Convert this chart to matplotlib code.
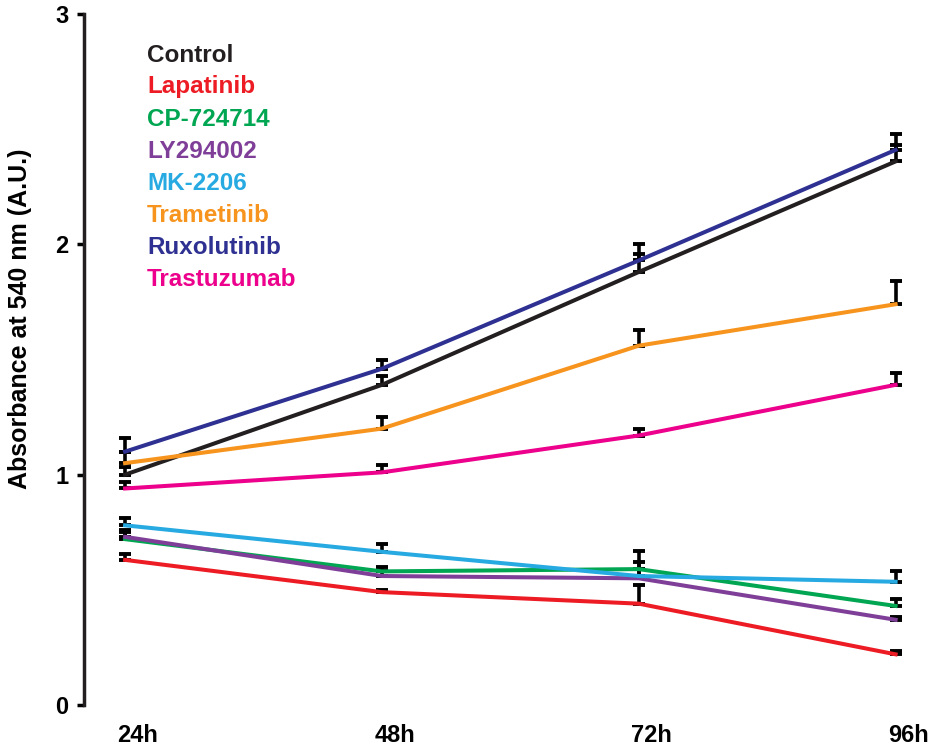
import numpy as np
import matplotlib.pyplot as plt

plt.rcParams['font.family'] = ['Liberation Sans', 'DejaVu Sans']
plt.rcParams['font.weight'] = 'bold'

times = ['24h', '48h', '72h', '96h']
names = ['Control', 'Lapatinib', 'CP-724714', 'LY294002', 'MK-2206',
         'Trametinib', 'Ruxolutinib', 'Trastuzumab']
colors = ['#231f20', '#ed1c24', '#00a651', '#7f3f98', '#27aae1',
          '#f7941d', '#2e3192', '#ec008c']

control = [1.00, 1.39, 1.88, 2.36]
lapatinib = [0.63, 0.49, 0.44, 0.22]
cp724714 = [0.72, 0.58, 0.59, 0.43]
ly294002 = [0.73, 0.56, 0.55, 0.37]
mk2206 = [0.78, 0.665, 0.56, 0.535]
trametinib = [1.05, 1.20, 1.56, 1.74]
ruxolutinib = [1.10, 1.46, 1.93, 2.41]
trastuzumab = [0.94, 1.01, 1.17, 1.39]

control_err = [0.035, 0.04, 0.08, 0.07]
lapatinib_err = [0.025, 0.01, 0.08, 0.015]
cp724714_err = [0.03, 0.02, 0.08, 0.03]
ly294002_err = [0.03, 0.02, 0.07, 0.01]
mk2206_err = [0.03, 0.035, 0.03, 0.045]
trametinib_err = [0.05, 0.05, 0.07, 0.10]
ruxolutinib_err = [0.06, 0.04, 0.07, 0.07]
trastuzumab_err = [0.03, 0.03, 0.03, 0.05]

series = [control, lapatinib, cp724714, ly294002, mk2206,
          trametinib, ruxolutinib, trastuzumab]
errs = [control_err, lapatinib_err, cp724714_err, ly294002_err, mk2206_err,
        trametinib_err, ruxolutinib_err, trastuzumab_err]

fig = plt.figure(figsize=(9.29, 7.46), dpi=100)
ax = fig.add_axes([84/929, 1-705/746, 1-84/929, 691/746])

x = np.arange(len(times))
for y, e, c in zip(series, errs, colors):
    ax.errorbar(x, y, yerr=[np.zeros(len(e)), e], fmt='none', ecolor='black',
                elinewidth=2.6, capsize=4.5, capthick=2.8, zorder=2)
for y, c in zip(series, colors):
    ax.plot(x, y, color=c, lw=2.9, zorder=3)

ax.set_xlim(-0.16, 3.13)
ax.set_ylim(0, 3)
ax.set_yticks([0, 1, 2, 3])
ax.set_yticklabels(['0', '1', '2', '3'], fontsize=17, fontweight='bold')
ax.set_xticks(x + 0.05)
ax.set_xticklabels(times, fontsize=17, fontweight='bold')
ax.tick_params(axis='x', length=0, pad=14)
ax.tick_params(axis='y', length=5, width=2.5, pad=6)
for s in ['top', 'right', 'bottom']:
    ax.spines[s].set_visible(False)
ax.spines['left'].set_linewidth(2.5)
ax.spines['left'].set_color('#231f20')

fig.text(0.021, (1-492/746 + 1-145/746)/2, 'Absorbance at 540 nm (A.U.)',
         rotation=90, fontsize=18, fontweight='bold', ha='center', va='center')

for i, (n, c) in enumerate(zip(names, colors)):
    fig.text(147/929, 1-(55+32*i)/746, n, color=c, fontsize=17.5,
             fontweight='bold', ha='left', va='center')

fig.savefig('out.png', dpi=100)
